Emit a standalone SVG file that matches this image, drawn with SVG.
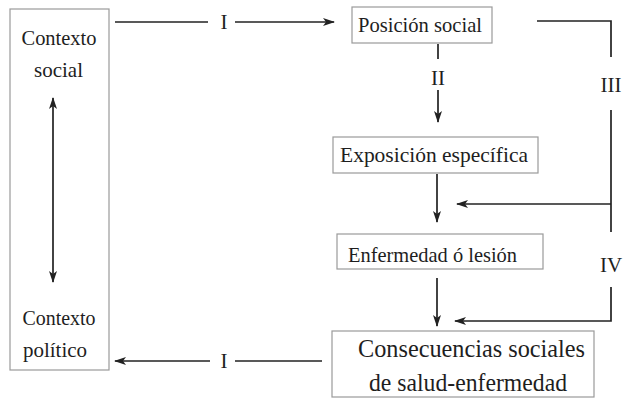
<svg xmlns="http://www.w3.org/2000/svg" width="625" height="400" viewBox="0 0 625 400">
<style>
.box{fill:#fff;stroke:#9a9a9a;stroke-width:1.2}
.t{font-family:'Liberation Serif','DejaVu Serif',serif;fill:#1e1e1e;font-size:21px}
.big{font-size:25px}
.c{stroke:#222;stroke-width:1.7;fill:none}
</style>
<defs>
<marker id="ah" markerUnits="userSpaceOnUse" markerWidth="12" markerHeight="8" refX="11" refY="4" orient="auto-start-reverse">
<path d="M0,0 L12,4 L0,8 L3,4 z" fill="#222"/>
</marker>
</defs>
<rect width="625" height="400" fill="#fff"/>
<g id="contexto">
<rect class="box" x="10" y="9" width="99" height="361"/>
<text class="t" x="59" y="45" text-anchor="middle" textLength="75" lengthAdjust="spacingAndGlyphs">Contexto</text>
<text class="t" x="58.5" y="77" text-anchor="middle">social</text>
<text class="t" x="59" y="325" text-anchor="middle" textLength="73" lengthAdjust="spacingAndGlyphs">Contexto</text>
<text class="t" x="55" y="357" text-anchor="middle">político</text>
</g>
<g id="posicion">
<rect class="box" x="352" y="7" width="140" height="36"/>
<text class="t" x="358" y="32" textLength="124" lengthAdjust="spacingAndGlyphs">Posición social</text>
</g>
<g id="exposicion">
<rect class="box" x="333" y="137" width="205" height="36"/>
<text class="t" x="340" y="162" textLength="188" lengthAdjust="spacingAndGlyphs">Exposición específica</text>
</g>
<g id="enfermedad">
<rect class="box" x="337" y="234" width="206" height="35"/>
<text class="t" x="348" y="262" textLength="169" lengthAdjust="spacingAndGlyphs">Enfermedad ó lesión</text>
</g>
<g id="consecuencias">
<rect class="box" x="332" y="331" width="262" height="66"/>
<text class="t big" x="358" y="357" textLength="227" lengthAdjust="spacingAndGlyphs">Consecuencias sociales</text>
<text class="t big" x="369" y="391" textLength="198" lengthAdjust="spacingAndGlyphs">de salud-enfermedad</text>
</g>
<g id="connectors">
<line class="c" x1="53" y1="98" x2="53" y2="282" marker-start="url(#ah)" marker-end="url(#ah)"/>
<line class="c" x1="115" y1="22" x2="208" y2="22"/>
<text class="t" x="224" y="29" text-anchor="middle">I</text>
<line class="c" x1="235" y1="22" x2="334" y2="22" marker-end="url(#ah)"/>
<line class="c" x1="438" y1="44" x2="438" y2="59"/>
<text class="t" x="438" y="85" text-anchor="middle">II</text>
<line class="c" x1="438" y1="90" x2="438" y2="122" marker-end="url(#ah)"/>
<polyline class="c" points="537,21 611,21 611,57"/>
<text class="t" x="611" y="92" text-anchor="middle">III</text>
<line class="c" x1="611" y1="110" x2="611" y2="232"/>
<line class="c" x1="611" y1="204" x2="457" y2="204" marker-end="url(#ah)"/>
<line class="c" x1="437" y1="174" x2="437" y2="222" marker-end="url(#ah)"/>
<text class="t" x="611" y="272" text-anchor="middle">IV</text>
<polyline class="c" points="611,287 611,321 455,321" marker-end="url(#ah)"/>
<line class="c" x1="437" y1="278" x2="437" y2="326" marker-end="url(#ah)"/>
<line class="c" x1="322" y1="361" x2="235" y2="361"/>
<text class="t" x="224" y="368" text-anchor="middle">I</text>
<line class="c" x1="210" y1="361" x2="115" y2="361" marker-end="url(#ah)"/>
</g>
</svg>
